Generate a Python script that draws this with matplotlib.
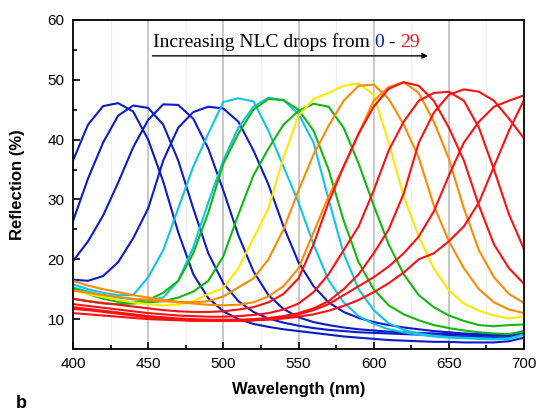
import numpy as np
import matplotlib
matplotlib.use("Agg")
import matplotlib.pyplot as plt
from matplotlib.ticker import MultipleLocator
from matplotlib.transforms import offset_copy

wavelength = np.arange(400, 701, 10)

blue_1 = [36.5, 42.5, 45.6, 46.1, 44.7, 40.0, 33.0, 24.5, 17.5, 13.5, 11.3, 10.0, 9.2, 8.7, 8.3, 8.0,
          7.7, 7.4, 7.1, 6.9, 6.7, 6.5, 6.4, 6.3, 6.2, 6.2, 6.1, 6.1, 6.1, 6.3, 6.9]
blue_2 = [26.4, 33.5, 39.5, 44.0, 45.7, 45.3, 42.5, 36.5, 28.5, 21.0, 16.0, 13.0, 11.2, 10.1, 9.4, 8.9,
          8.5, 8.2, 8.0, 7.8, 7.7, 7.6, 7.5, 7.4, 7.3, 7.2, 7.1, 7.0, 6.9, 7.0, 7.5]
blue_3 = [19.7, 23.0, 27.3, 32.8, 38.7, 43.3, 45.9, 45.8, 43.5, 38.5, 31.5, 24.0, 18.0, 14.0, 11.7, 10.3,
          9.5, 9.0, 8.6, 8.3, 8.1, 7.9, 7.8, 7.7, 7.6, 7.5, 7.4, 7.3, 7.2, 7.3, 7.8]
blue_4 = [16.6, 16.4, 17.2, 19.5, 23.5, 28.5, 36.5, 42.0, 44.6, 45.5, 45.2, 43.0, 38.2, 32.5, 25.5, 19.5,
          15.5, 12.8, 11.2, 10.2, 9.5, 9.0, 8.6, 8.3, 8.0, 7.8, 7.6, 7.5, 7.4, 7.4, 8.0]
cyan_1 = [15.8, 15.0, 14.4, 14.0, 14.0, 17.0, 21.5, 28.5, 35.5, 41.0, 46.3, 46.9, 46.4, 41.5, 35.5, 29.5,
          22.5, 16.5, 12.8, 10.5, 9.2, 8.3, 7.8, 7.4, 7.1, 6.9, 6.8, 6.7, 6.6, 6.7, 7.4]
cyan_2 = [15.3, 14.6, 14.0, 13.6, 13.3, 13.2, 13.6, 16.4, 22.0, 29.5, 36.5, 42.0, 45.5, 47.0, 46.6, 44.3,
          39.5, 30.0, 21.0, 15.0, 11.5, 9.3, 8.2, 7.6, 7.2, 7.0, 6.9, 6.8, 6.7, 6.8, 7.4]
green_1 = [15.2, 14.2, 13.4, 12.9, 12.8, 13.2, 14.4, 16.4, 21.0, 27.8, 36.0, 41.0, 45.0, 46.8, 46.6, 45.0,
           41.5, 35.0, 26.5, 19.5, 15.0, 12.3, 10.8, 9.8, 9.0, 8.5, 8.1, 7.8, 7.6, 7.5, 7.9]
green_2 = [13.4, 13.0, 12.6, 12.5, 12.6, 12.8, 13.0, 13.6, 14.6, 16.4, 20.5, 27.5, 34.0, 38.5, 42.5, 44.8,
           46.0, 45.5, 42.0, 36.0, 29.0, 22.5, 17.5, 14.0, 12.0, 10.6, 9.7, 9.0, 8.8, 9.0, 9.1]
yellow_1 = [14.8, 14.2, 13.7, 13.2, 12.8, 12.5, 12.3, 12.4, 13.0, 14.2, 15.2, 18.5, 23.5, 28.5, 37.0, 44.0,
            46.8, 47.8, 49.0, 49.4, 47.5, 39.5, 30.5, 23.8, 18.5, 14.8, 12.6, 11.4, 10.6, 10.1, 10.5]
orange_1 = [16.4, 15.6, 15.0, 14.5, 14.0, 13.6, 13.2, 12.9, 12.8, 13.0, 13.8, 15.3, 16.8, 20.0, 25.0, 31.5,
            37.5, 42.3, 46.5, 49.0, 49.2, 46.8, 42.5, 37.0, 29.0, 23.0, 18.5, 15.0, 12.8, 11.6, 11.0]
orange_2 = [14.8, 14.4, 14.0, 13.7, 13.4, 13.2, 13.0, 12.8, 12.6, 12.4, 12.3, 12.4, 12.8, 13.8, 15.5, 18.5,
            24.5, 30.5, 35.5, 41.0, 46.5, 48.8, 49.6, 47.8, 43.0, 36.8, 28.5, 21.5, 17.0, 14.2, 12.7]
red_1 = [13.4, 13.0, 12.7, 12.4, 12.1, 11.8, 11.5, 11.3, 11.2, 11.2, 11.3, 11.6, 12.0, 12.8, 14.2, 16.8,
         22.5, 29.5, 35.5, 41.0, 45.5, 48.5, 49.6, 49.0, 46.5, 42.0, 36.5, 29.0, 22.5, 18.5, 15.9]
red_2 = [12.5, 12.2, 11.9, 11.6, 11.3, 11.0, 10.8, 10.6, 10.5, 10.4, 10.4, 10.5, 10.7, 11.0, 11.6, 12.6,
         14.5, 17.5, 21.5, 25.5, 31.5, 38.2, 43.0, 46.5, 47.8, 48.0, 46.5, 42.0, 35.0, 27.5, 21.7]
red_3 = [12.0, 11.7, 11.4, 11.1, 10.8, 10.5, 10.3, 10.1, 10.0, 9.9, 9.9, 9.9, 10.0, 10.2, 10.5, 11.0,
         11.8, 13.0, 15.0, 17.5, 21.0, 25.0, 31.0, 39.5, 44.5, 47.5, 48.4, 48.0, 46.5, 43.5, 40.2]
red_4 = [11.7, 11.5, 11.2, 10.9, 10.6, 10.3, 10.1, 9.9, 9.8, 9.7, 9.7, 9.7, 9.8, 10.0, 10.3, 10.8,
         11.5, 12.5, 14.0, 15.5, 17.0, 18.8, 21.0, 23.8, 28.0, 34.0, 39.5, 43.0, 45.5, 46.5, 47.4]
red_5 = [11.0, 10.8, 10.6, 10.4, 10.2, 10.0, 9.9, 9.8, 9.7, 9.7, 9.7, 9.7, 9.8, 9.9, 10.1, 10.4,
         10.8, 11.4, 12.2, 13.2, 14.5, 16.0, 17.8, 20.0, 21.0, 23.0, 25.5, 29.5, 35.5, 41.5, 46.6]

BLUE = "#0b1bc9"
CYAN = "#10c4e8"
GREEN = "#12b812"
YELLOW = "#ffe800"
ORANGE = "#ff8a00"
RED = "#ff1010"

spectra = [
    (blue_1, BLUE), (blue_2, BLUE), (blue_3, BLUE), (blue_4, BLUE),
    (cyan_1, CYAN), (cyan_2, CYAN), (green_1, GREEN), (green_2, GREEN),
    (yellow_1, YELLOW), (orange_1, ORANGE), (orange_2, ORANGE),
    (red_1, RED), (red_2, RED), (red_3, RED), (red_4, RED), (red_5, RED),
]

plt.rcParams["font.family"] = ["Liberation Sans", "DejaVu Sans"]

fig = plt.figure(figsize=(5.38, 4.16), dpi=100)
ax = fig.add_axes([0.1357, 0.161, 0.8383, 0.791])

# vertical grid: strong at the major ticks, faint at the minor ones
for x in [450, 500, 550, 600, 650]:
    ax.axvline(x, color="#c4c4c4", lw=1.3, zorder=0)
for x in [425, 475, 525, 575, 625, 675]:
    ax.axvline(x, color="#f0f0f0", lw=0.8, zorder=0)

for values, color in spectra:
    ax.plot(wavelength, values, color=color, lw=1.5, zorder=2, solid_joinstyle="round")

ax.set_xlim(400, 700)
ax.set_ylim(5, 60)
ax.xaxis.set_major_locator(MultipleLocator(50))
ax.xaxis.set_minor_locator(MultipleLocator(25))
ax.yaxis.set_major_locator(MultipleLocator(10))
ax.yaxis.set_minor_locator(MultipleLocator(5))
ax.tick_params(which="both", direction="in", top=False, right=False, width=1.2)
ax.tick_params(which="major", length=5, labelsize=11, pad=6)
ax.tick_params(which="minor", length=3)
for s in ax.spines.values():
    s.set_linewidth(1.3)

ax.set_xlabel("Wavelength (nm)", fontsize=12, fontweight="bold", labelpad=8)
ax.set_ylabel("Reflection (%)", fontsize=12, fontweight="bold", labelpad=16)
fig.text(0.03, 0.02, "b", fontsize=13, fontweight="bold")

# arrow with the multicoloured caption above it
ax.annotate("", xy=(638, 54.0), xytext=(451, 54.0),
            arrowprops=dict(arrowstyle="-|>", color="black", lw=1.0, mutation_scale=8))

fig.canvas.draw()
renderer = fig.canvas.get_renderer()
parts = [("Increasing NLC drops from ", "black"), ("0", BLUE), (" - ", "black"), ("29", RED)]
trans = ax.transData
for s, c in parts:
    t = ax.text(453, 56.3, s, color=c, fontsize=14, family="Liberation Serif",
                va="center", ha="left", transform=trans)
    ext = t.get_window_extent(renderer=renderer)
    trans = offset_copy(trans, fig=fig, x=ext.width, units="dots")

fig.savefig("out.png", dpi=100)
